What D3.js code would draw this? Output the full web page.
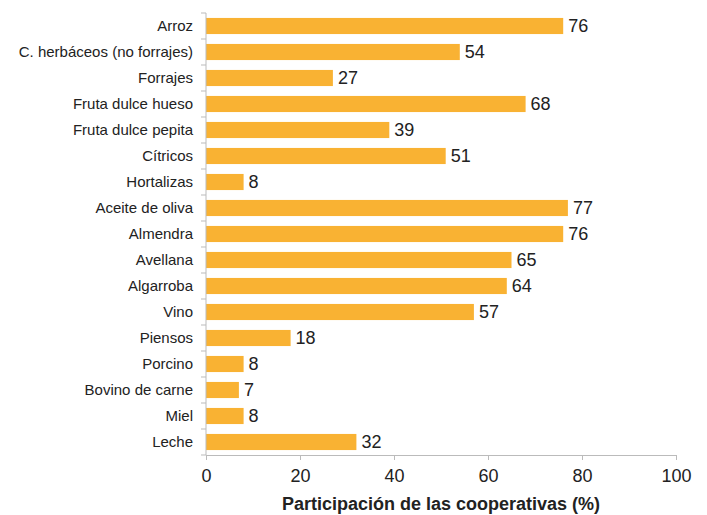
<!DOCTYPE html>
<html>
<head>
<meta charset="utf-8">
<script src="https://cdn.jsdelivr.net/npm/d3@7"></script>
<style>
  body { margin: 0; background: #fff; }
  text { font-family: "Liberation Sans", Arial, sans-serif; fill: #222; }
</style>
</head>
<body>
<div id="chart"></div>
<script>
// Datos del gráfico
var categories = ["Arroz", "C. herbáceos (no forrajes)", "Forrajes", "Fruta dulce hueso",
  "Fruta dulce pepita", "Cítricos", "Hortalizas", "Aceite de oliva", "Almendra",
  "Avellana", "Algarroba", "Vino", "Piensos", "Porcino", "Bovino de carne", "Miel", "Leche"];
var values = [76, 54, 27, 68, 39, 51, 8, 77, 76, 65, 64, 57, 18, 8, 7, 8, 32];
var xTicks = [0, 20, 40, 60, 80, 100];

var data = categories.map(function(c, i) { return { cat: c, val: values[i] }; });

var margin = { top: 13, right: 31, bottom: 60, left: 206 };
var width = 707 - margin.left - margin.right;
var height = 515 - margin.top - margin.bottom;

var svg = d3.select("#chart")
  .append("svg")
  .attr("width", 707)
  .attr("height", 515)
  .append("g")
  .attr("transform", "translate(" + margin.left + "," + margin.top + ")");

var x = d3.scaleLinear().domain([0, 100]).range([0, width]);
var y = d3.scaleBand().domain(categories).range([0, height]).paddingInner(0.38).paddingOuter(0.19);

// Barras
svg.selectAll(".bar")
  .data(data)
  .enter().append("rect")
  .attr("class", "bar")
  .attr("x", 0)
  .attr("y", function(d) { return y(d.cat); })
  .attr("width", function(d) { return x(d.val); })
  .attr("height", y.bandwidth())
  .attr("fill", "#F9B233");

// Etiquetas de valor
svg.selectAll(".label")
  .data(data)
  .enter().append("text")
  .attr("class", "label")
  .attr("x", function(d) { return x(d.val) + 5; })
  .attr("y", function(d) { return y(d.cat) + y.bandwidth() / 2; })
  .attr("dy", ".36em")
  .style("font-size", "18px")
  .text(function(d) { return d.val; });

// Eje Y con marcas entre categorías
var yAxis = svg.append("g");
yAxis.append("line")
  .attr("x1", 0).attr("x2", 0).attr("y1", 0).attr("y2", height)
  .attr("stroke", "#bbb");
yAxis.selectAll(".ytick")
  .data(d3.range(categories.length + 1))
  .enter().append("line")
  .attr("x1", -5).attr("x2", 0)
  .attr("y1", function(i) { return i * y.step(); })
  .attr("y2", function(i) { return i * y.step(); })
  .attr("stroke", "#bbb");
yAxis.selectAll(".ylab")
  .data(categories)
  .enter().append("text")
  .attr("x", -13)
  .attr("y", function(d) { return y(d) + y.bandwidth() / 2; })
  .attr("dy", ".35em")
  .style("text-anchor", "end")
  .style("font-size", "15px")
  .text(function(d) { return d; });

// Eje X
var xAxis = svg.append("g")
  .attr("transform", "translate(0," + height + ")")
  .call(d3.axisBottom(x).tickValues(xTicks).tickSize(5).tickPadding(9));
xAxis.select(".domain").attr("stroke", "#bbb");
xAxis.selectAll(".tick line").attr("stroke", "#bbb");
xAxis.selectAll("text")
  .style("font-size", "18px")
  .style("font-family", "'Liberation Sans', Arial, sans-serif")
  .attr("fill", "#222");

// Título del eje X
svg.append("text")
  .attr("x", width / 2)
  .attr("y", height + 55)
  .style("text-anchor", "middle")
  .style("font-size", "18px")
  .style("font-weight", "bold")
  .text("Participación de las cooperativas (%)");
</script>
</body>
</html>
